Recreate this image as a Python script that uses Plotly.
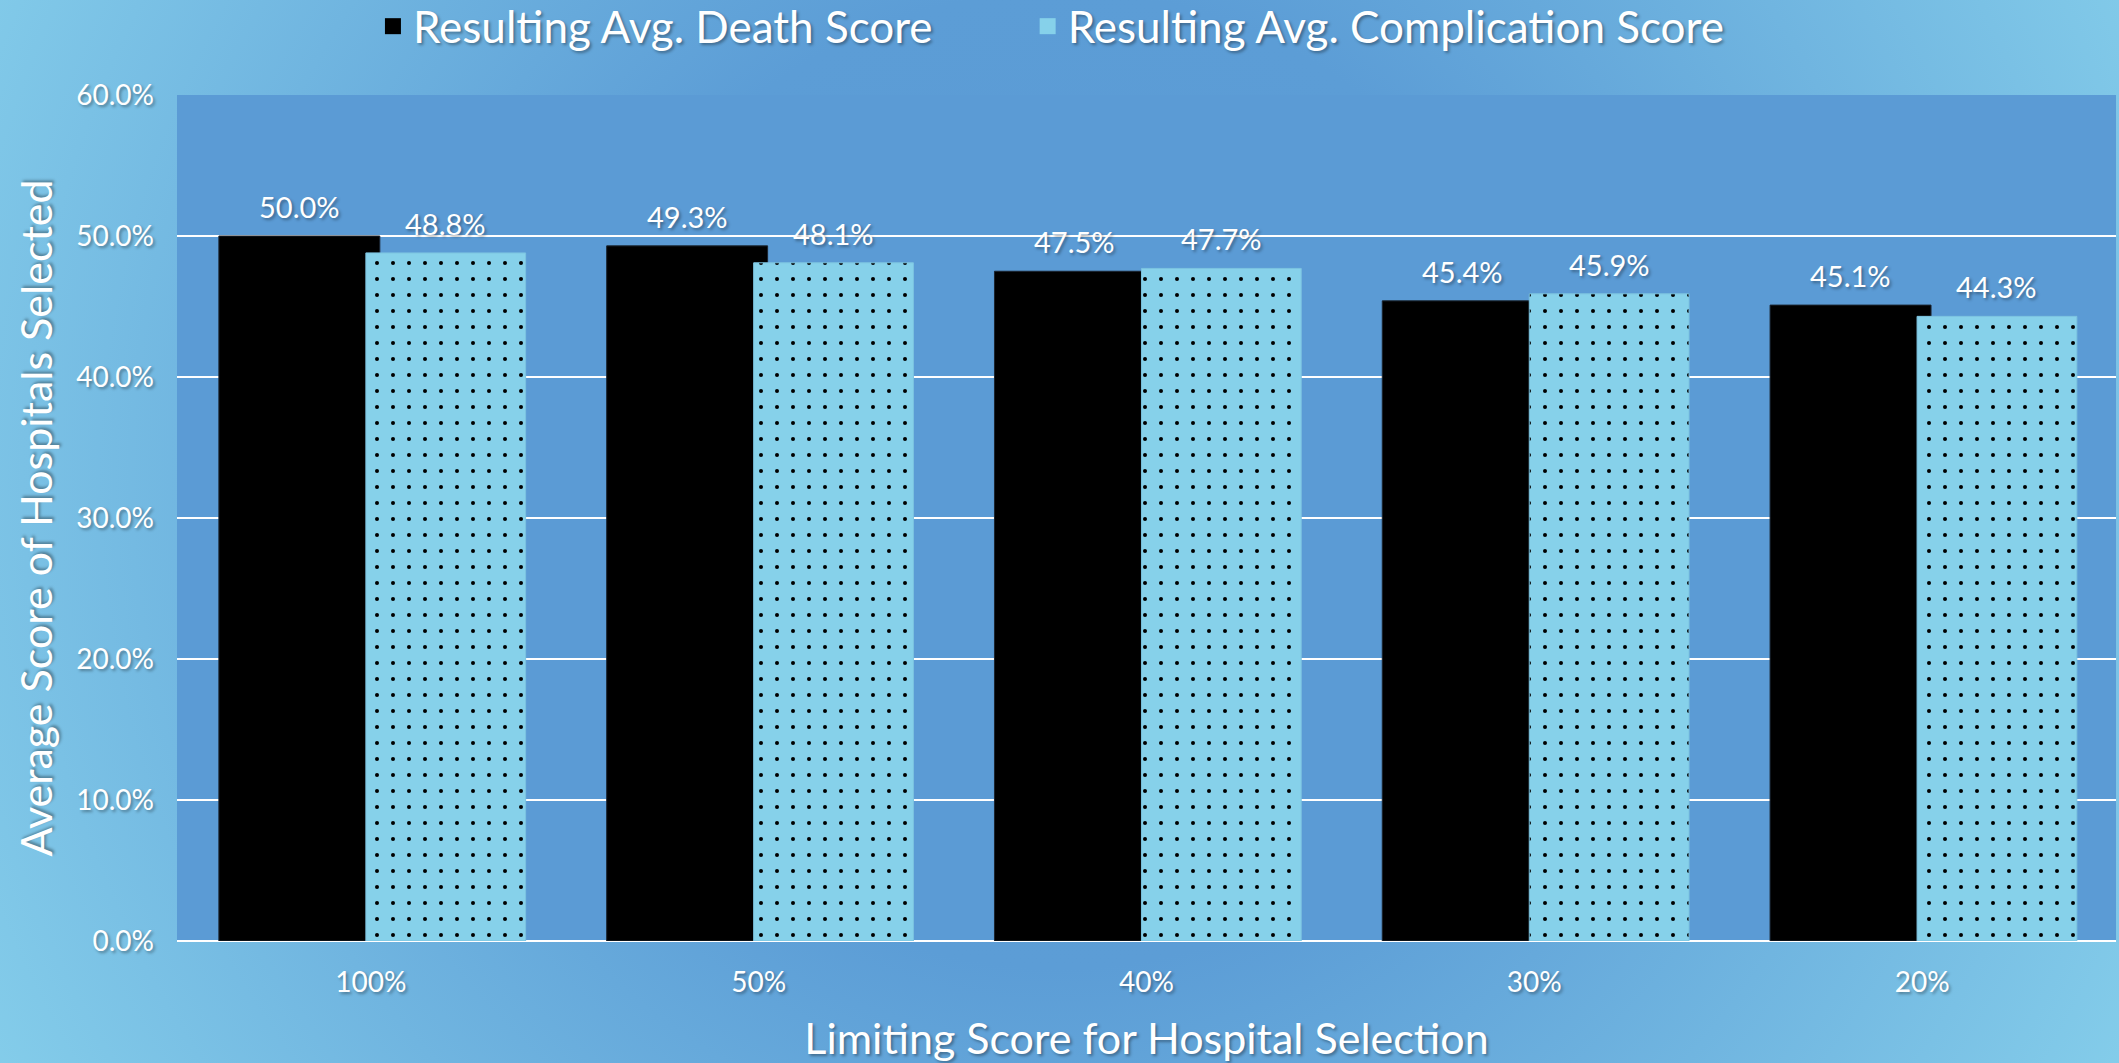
import base64
import plotly.graph_objects as go

# data
categories = ["100%", "50%", "40%", "30%", "20%"]
death_score = [0.500, 0.493, 0.475, 0.454, 0.451]
complication_score = [0.488, 0.481, 0.477, 0.459, 0.443]
series_names = ["Resulting Avg. Death Score", "Resulting Avg. Complication Score"]

W, H = 2119, 1063
M = dict(l=177, r=3, t=95, b=122)
plot_w = W - M["l"] - M["r"]
plot_h = H - M["t"] - M["b"]

FONT = "Lato, 'Noto Sans', sans-serif"
SHADOW = "2px 2px 3px rgba(0,0,0,0.35)"
DOT_BLUE = "#86d1ea"

# radial background like the office chart style
svg = f"""<svg xmlns='http://www.w3.org/2000/svg' width='{W}' height='{H}' viewBox='0 0 {W} {H}'>
<defs><radialGradient id='g' gradientUnits='userSpaceOnUse' cx='1060' cy='480' r='1220'>
<stop offset='0' stop-color='#5a99d4'/><stop offset='0.4' stop-color='#5c9dd6'/>
<stop offset='1' stop-color='#84cdea'/></radialGradient></defs>
<rect width='{W}' height='{H}' fill='url(#g)'/></svg>"""
bg_src = "data:image/svg+xml;base64," + base64.b64encode(svg.encode()).decode()

black_off, black_w = -0.392, 0.415
dot_off, dot_w = -0.013, 0.412

fig = go.Figure()
fig.add_trace(go.Bar(
    x=categories, y=death_score, name=series_names[0], showlegend=False,
    offset=black_off, width=black_w,
    marker=dict(color="#000000", line=dict(color="#1b2430", width=1)),
))
fig.add_trace(go.Bar(
    x=categories, y=complication_score, name=series_names[1], showlegend=False,
    offset=dot_off, width=dot_w,
    marker=dict(color=DOT_BLUE, line=dict(color="#7cc3e0", width=1),
                pattern=dict(shape=".", fgcolor="#000000", bgcolor=DOT_BLUE,
                             size=16, solidity=0.05, fillmode="replace")),
))

# legend entries with bigger square swatches
fig.add_trace(go.Scatter(
    x=[None], y=[None], mode="markers", name=series_names[0] + "&nbsp;" * 8,
    marker=dict(symbol="square", size=20, color="#000000"),
))
fig.add_trace(go.Scatter(
    x=[None], y=[None], mode="markers", name=series_names[1],
    marker=dict(symbol="square", size=20, color=DOT_BLUE),
))

# value labels above each bar
for i, (d, c) in enumerate(zip(death_score, complication_score)):
    for val, off, w in [(d, black_off, black_w), (c, dot_off, dot_w)]:
        fig.add_annotation(
            x=i + off + w / 2, y=val, text=f"{val * 100:.1f}%",
            showarrow=False, yanchor="bottom", yshift=10,
            font=dict(size=29, color="white", family=FONT, shadow=SHADOW),
        )

fig.add_layout_image(dict(
    source=bg_src, xref="paper", yref="paper",
    x=-M["l"] / plot_w, y=1 + M["t"] / plot_h,
    sizex=W / plot_w, sizey=H / plot_h,
    sizing="stretch", layer="below", xanchor="left", yanchor="top",
))
fig.add_shape(type="rect", xref="paper", yref="paper", x0=0, x1=1, y0=0, y1=1,
              fillcolor="#5b9bd5", line=dict(width=0), layer="below")

fig.update_layout(
    width=W, height=H, margin=M,
    barmode="overlay",
    paper_bgcolor="#66aadb",
    plot_bgcolor="rgba(0,0,0,0)",
    font=dict(family=FONT, color="white", shadow=SHADOW),
    showlegend=True,
    legend=dict(orientation="h", xref="container", yref="container",
                x=0.176, xanchor="left", y=0.975, yanchor="middle",
                font=dict(size=44, color="white", family=FONT, shadow=SHADOW),
                bgcolor="rgba(0,0,0,0)"),
    xaxis=dict(
        type="category", showgrid=False, showline=False, zeroline=False,
        tickfont=dict(size=28), ticklabelstandoff=22,
        title=dict(text="Limiting Score for Hospital Selection",
                   font=dict(size=43), standoff=27),
    ),
    yaxis=dict(
        range=[0, 0.6], dtick=0.1, tickformat=".1%",
        showgrid=True, gridcolor="white", gridwidth=2,
        zeroline=True, zerolinecolor="white", zerolinewidth=2,
        tickfont=dict(size=28), ticklabelstandoff=22,
        title=dict(text="Average Score of Hospitals Selected",
                   font=dict(size=43), standoff=10),
    ),
)

fig.write_html("out.html", config={"displayModeBar": False},
               post_script="document.body.style.margin='0';document.body.style.overflow='hidden';")
